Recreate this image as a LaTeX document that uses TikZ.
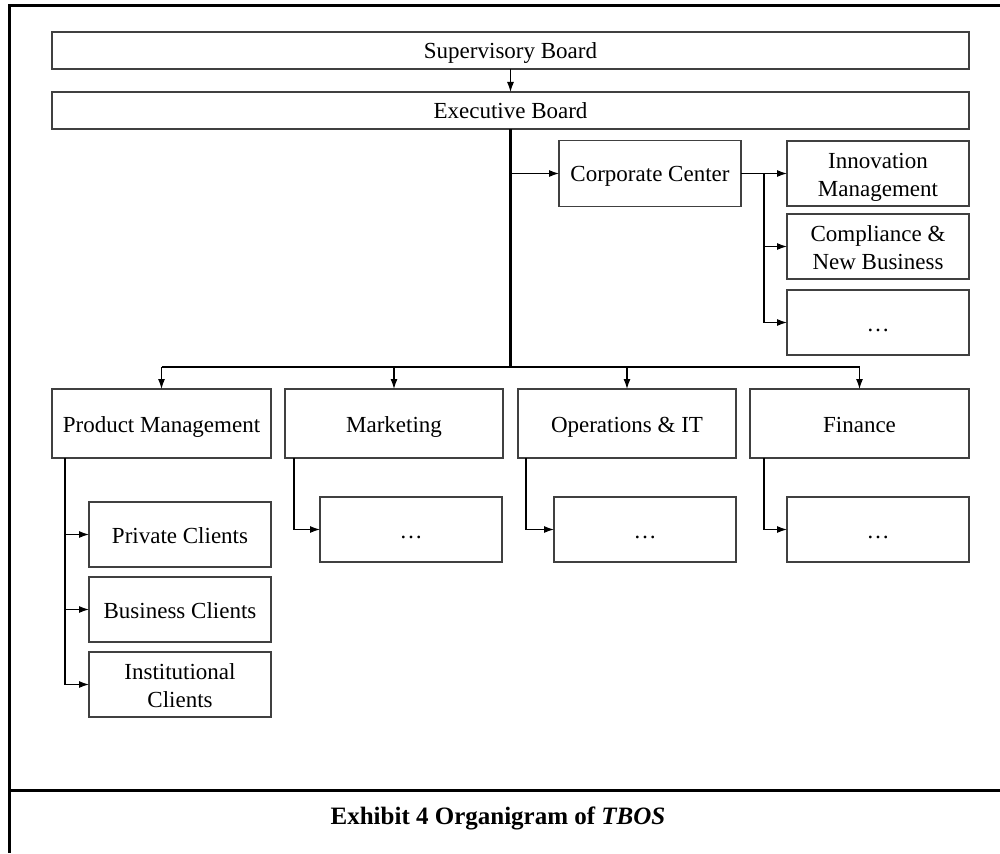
\documentclass[tikz,border=0pt]{standalone}
\usepackage{fontspec}
\setmainfont{Liberation Serif}
\usetikzlibrary{arrows.meta,calc}
\begin{document}
\begin{tikzpicture}[x=1pt,y=-1pt,
  box/.style={draw=black!75,line width=1.1pt,fill=white,inner sep=0pt,outer sep=0pt,
    align=center,font=\fontsize{23}{28}\selectfont},
  one/.style={text height=18pt,text depth=1pt},
  two/.style={text height=50pt,text depth=5pt},
  conn/.style={draw=black,line width=1.2pt},
  arr/.style={conn,-{Latex[length=10pt,width=7pt]}},
  trunk/.style={draw=black,line width=2.2pt},
  frame/.style={draw=black,line width=3pt}]
\useasboundingbox (0,0) rectangle (1000,853);
\draw[frame] (1000,6) -- (9,6) -- (9,853);
\draw[frame] (9,790) -- (1000,790);
% boxes
\node[box,one,minimum width=917pt,minimum height=37pt] (sup) at (510.5,50.5) {Supervisory Board};
\node[box,one,minimum width=917pt,minimum height=37pt] (exec) at (510.5,110.5) {Executive Board};
\node[box,one,minimum width=182pt,minimum height=66pt] (cc) at (650,173.5) {Corporate Center};
\node[box,two,minimum width=182pt,minimum height=65pt] (inn) at (878,173.5) {Innovation\\Management};
\node[box,two,minimum width=182pt,minimum height=65pt] (comp) at (878,246.5) {Compliance \&\\New Business};
\node[box,one,minimum width=182pt,minimum height=65pt] (ccd) at (878,322.5) {\ldots};
\node[box,one,minimum width=219pt,minimum height=69pt] (pm) at (161.5,423.5) {Product Management};
\node[box,one,minimum width=218pt,minimum height=69pt] (mkt) at (394,423.5) {Marketing};
\node[box,one,minimum width=218pt,minimum height=69pt] (ops) at (627,423.5) {Operations \& IT};
\node[box,one,minimum width=219pt,minimum height=69pt] (fin) at (859.5,423.5) {Finance};
\node[box,one,minimum width=182pt,minimum height=65pt] (pc) at (180,534.5) {Private Clients};
\node[box,one,minimum width=182pt,minimum height=65pt] (bc) at (180,609.5) {Business Clients};
\node[box,two,minimum width=182pt,minimum height=65pt] (ic) at (180,684.5) {Institutional\\Clients};
\node[box,one,minimum width=182pt,minimum height=65pt] (md) at (411,529.5) {\ldots};
\node[box,one,minimum width=182pt,minimum height=65pt] (od) at (645,529.5) {\ldots};
\node[box,one,minimum width=182pt,minimum height=65pt] (fd) at (878,529.5) {\ldots};
% caption
\node[font=\fontsize{25}{30}\selectfont\bfseries] (cap) at (498,818) {Exhibit 4 Organigram of \textit{TBOS}};
% connectors
\draw[arr] (sup.south) -- (exec.north);
\coordinate (bus) at (510.5,367);
\draw[trunk] (exec.south) -- (bus);
\draw[arr] (exec.south |- cc.west) -- (cc.west);
\draw[conn] (pm.north |- bus) -- (fin.north |- bus);
\draw[arr] (pm.north |- bus) -- (pm.north);
\draw[arr] (mkt.north |- bus) -- (mkt.north);
\draw[arr] (ops.north |- bus) -- (ops.north);
\draw[arr] (fin.north |- bus) -- (fin.north);
% corporate center branch
\coordinate (ccb) at ($(cc.east)+(23,0)$);
\draw[arr] (cc.east) -- (inn.west);
\draw[arr] (ccb) |- (comp.west);
\draw[arr] (ccb) |- (ccd.west);
% product management branch
\coordinate (pmb) at ($(pm.south west)+(13,0)$);
\draw[arr] (pmb) |- (pc.west);
\draw[arr] (pmb) |- (bc.west);
\draw[arr] (pmb) |- (ic.west);
% other branches
\coordinate (mkb) at ($(mkt.south west)+(9,0)$);
\coordinate (opb) at ($(ops.south west)+(8,0)$);
\coordinate (fib) at ($(fin.south west)+(14,0)$);
\draw[arr] (mkb) |- (md.west);
\draw[arr] (opb) |- (od.west);
\draw[arr] (fib) |- (fd.west);
\end{tikzpicture}
\end{document}
